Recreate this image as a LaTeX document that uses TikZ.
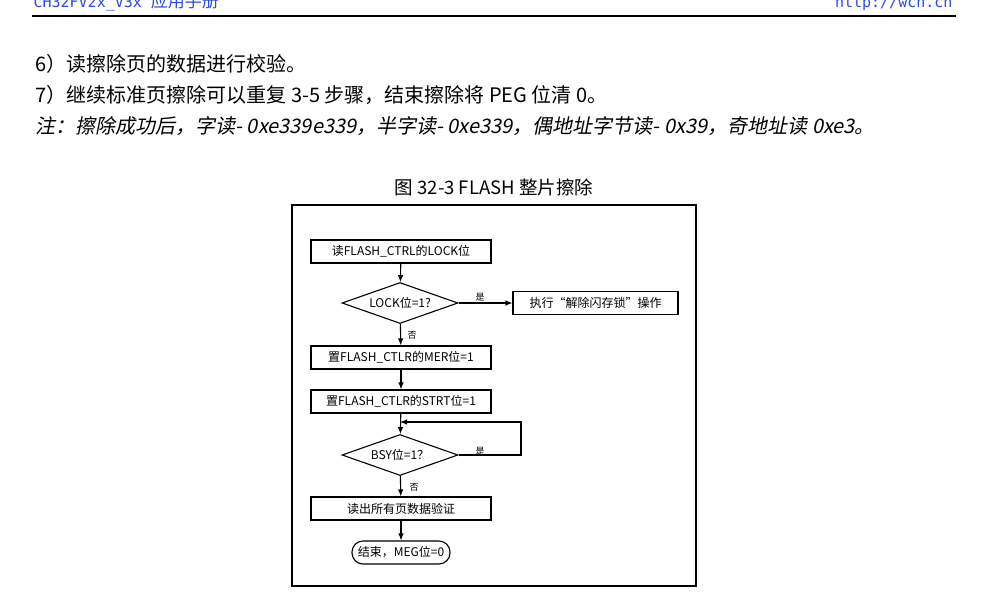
\documentclass[tikz,border=0pt]{standalone}
\usepackage{fontspec}
\setmainfont{Noto Sans CJK SC}
\newfontfamily\slantfont[FakeSlant=0.2]{Noto Sans CJK SC}
\newfontfamily\hdrfont{DejaVu Sans Mono}
\usetikzlibrary{shapes.geometric,arrows.meta}

\definecolor{hdrblue}{RGB}{45,75,225}

\tikzset{
  >={Latex[length=7pt,width=5.5pt]},
  stepbox/.style={draw, line width=1.1pt, minimum width=180pt, minimum height=23pt,
    inner sep=0pt, font=\fontsize{12}{12}\selectfont},
  decision/.style={draw, diamond, aspect=2.8, line width=1.1pt, inner sep=0pt,
    minimum width=116pt, minimum height=41pt, font=\fontsize{12}{12}\selectfont},
  lbl/.style={inner sep=0pt, font=\fontsize{9}{9}\selectfont},
  bodytext/.style={anchor=west, inner sep=0pt, font=\fontsize{20}{20}\selectfont},
}

\begin{document}
\begin{tikzpicture}[x=1pt, y=-1pt, line width=1.1pt]
\useasboundingbox[fill=white] (0,0) rectangle (984,597);

% header
\node (hdrl) [anchor=base west, inner sep=0pt, text=hdrblue, font=\hdrfont\fontsize{15}{15}\selectfont] at (33,8) {CH32FV2x\_V3x {\rmfamily\fontsize{17}{17}\selectfont 应用手册}};
\node (hdrr) [anchor=base east, inner sep=0pt, text=hdrblue, font=\hdrfont\fontsize{15}{15}\selectfont] at (953,8) {http://wch.cn};
\draw[line width=2.2pt] (32,16) -- (956,16);

% text
\node (line6) [bodytext] at (35,64) {6）读擦除页的数据进行校验。};
\node (line7) [bodytext] at (35,95) {7）继续标准页擦除可以重复 3-5 步骤，结束擦除将 PEG 位清 0。};
\node (note) [bodytext, font=\slantfont\fontsize{20}{20}\selectfont] at (35,126) {注：擦除成功后，字读- 0xe339e339，半字读- 0xe339，偶地址字节读- 0x39，奇地址读 0xe3。};

% figure
\node (cap) [inner sep=0pt, font=\fontsize{18.5}{18.5}\selectfont] at (494,187) {图 32-3 FLASH 整片擦除};
\draw (292,205) rectangle (696,586);

\node (read) [stepbox] at (401,251.5) {读FLASH\_CTRL的LOCK位};
\node (lock) [decision] at (400,303) {LOCK位=1?};
\node (unlock) [stepbox, minimum width=165pt] at (595.5,303) {执行“解除闪存锁”操作};
\node (mer) [stepbox] at (401,357.5) {置FLASH\_CTLR的MER位=1};
\node (strt) [stepbox] at (401,401.5) {置FLASH\_CTLR的STRT位=1};
\node (bsy) [decision] at (400,455) {BSY位=1？};
\node (verify) [stepbox] at (401,508.5) {读出所有页数据验证};
\node (fin) [draw, rounded corners=11pt, minimum width=98pt, minimum height=23pt,
  inner sep=0pt, font=\fontsize{12}{12}\selectfont] at (401,552.5) {结束，MEG位=0};

\coordinate (loopc) at (521,422);
\coordinate (loopin) at (400,422);

\draw[->] (read) -- (lock);
\draw[->] (lock) -- (unlock);
\draw[->] (lock) -- (mer);
\draw[->] (mer) -- (strt);
\draw[->] (strt) -- (bsy);
\draw[->] (bsy.east) -| (loopc) -- (loopin);
\draw[->] (bsy) -- (verify);
\draw[->] (verify) -- (fin);

\node (yes1) [lbl] at (480,297) {是};
\node (no1) [lbl] at (412,335) {否};
\node (yes2) [lbl] at (480,451) {是};
\node (no2) [lbl] at (414,487) {否};
\end{tikzpicture}
\end{document}
